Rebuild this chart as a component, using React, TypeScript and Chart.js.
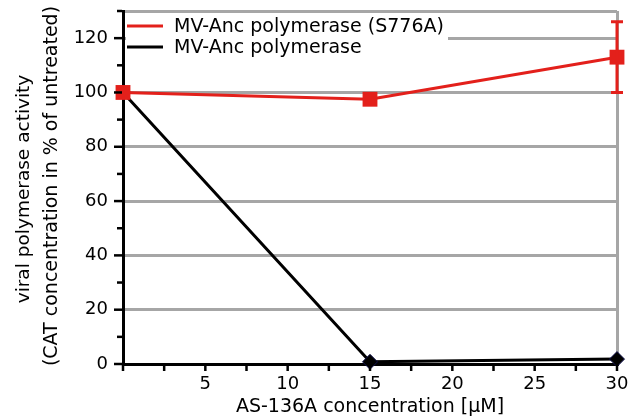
import React, { useEffect, useRef } from 'react';
import { Chart, registerables } from 'chart.js';

Chart.register(...registerables);

// ---- data ----
const concentrations = [0, 15, 30];
const mutantActivity = [100, 97.5, 113];
const mutantErrLow: (number | null)[] = [null, null, 100];
const mutantErrHigh: (number | null)[] = [null, null, 126];
const wildtypeActivity = [100, 0.8, 1.8];
const seriesLabels = ['MV-Anc polymerase (S776A)', 'MV-Anc polymerase'];
const xTitle = 'AS-136A concentration [µM]';
const yTitleLines = ['viral polymerase activity', '(CAT concentration in % of untreated)'];
const xTickValues = [0, 2.5, 5, 7.5, 10, 12.5, 15, 17.5, 20, 22.5, 25, 27.5, 30];
const xLabeled = [5, 10, 15, 20, 25, 30];
const yTickValues = [0, 10, 20, 30, 40, 50, 60, 70, 80, 90, 100, 110, 120, 130];
const yLabeled = [0, 20, 40, 60, 80, 100, 120];

const RED = '#e3201b';
const GRAY = '#a6a6a6';
const FONT = 'DejaVu Sans';

const decorPlugin = {
  id: 'decor',
  afterDatasetsDraw(chart: any) {
    const ctx = chart.ctx;
    const xs = chart.scales.x;
    const ys = chart.scales.y;
    // error bars
    ctx.save();
    ctx.strokeStyle = RED;
    ctx.lineWidth = 3;
    concentrations.forEach((c, i) => {
      const lo = mutantErrLow[i];
      const hi = mutantErrHigh[i];
      if (lo == null || hi == null) return;
      const px = xs.getPixelForValue(c);
      const pLo = ys.getPixelForValue(lo);
      const pHi = ys.getPixelForValue(hi);
      ctx.beginPath();
      ctx.moveTo(px, pLo);
      ctx.lineTo(px, pHi);
      ctx.moveTo(px - 6, pLo);
      ctx.lineTo(px + 6, pLo);
      ctx.moveTo(px - 6, pHi);
      ctx.lineTo(px + 6, pHi);
      ctx.stroke();
    });
    ctx.restore();
  },
  afterDraw(chart: any) {
    const ctx = chart.ctx;
    const xs = chart.scales.x;
    const ys = chart.scales.y;
    const area = chart.chartArea;
    ctx.save();
    // tick marks
    ctx.strokeStyle = '#000';
    ctx.lineWidth = 2.5;
    yTickValues.forEach((v) => {
      const py = ys.getPixelForValue(v);
      const len = v % 20 === 0 ? 8 : 5;
      ctx.beginPath();
      ctx.moveTo(area.left - 1, py);
      ctx.lineTo(area.left - 1 - len, py);
      ctx.stroke();
    });
    xTickValues.forEach((v) => {
      const px = xs.getPixelForValue(v);
      ctx.beginPath();
      ctx.moveTo(px, area.bottom + 1);
      ctx.lineTo(px, area.bottom + 7);
      ctx.stroke();
    });
    // legend
    ctx.fillStyle = '#fff';
    ctx.fillRect(area.left + 3, 15, 322, 44);
    ctx.font = `19px "${FONT}"`;
    ctx.textBaseline = 'middle';
    ctx.textAlign = 'left';
    const legendRows = [
      { color: RED, y: 26 },
      { color: '#000', y: 47 },
    ];
    legendRows.forEach((r, i) => {
      ctx.strokeStyle = r.color;
      ctx.lineWidth = 3;
      ctx.beginPath();
      ctx.moveTo(area.left + 4, r.y);
      ctx.lineTo(area.left + 40, r.y);
      ctx.stroke();
      ctx.fillStyle = '#000';
      ctx.fillText(seriesLabels[i], area.left + 51, r.y + 1);
    });
    // axis titles
    ctx.fillStyle = '#000';
    ctx.textAlign = 'center';
    ctx.textBaseline = 'middle';
    ctx.font = `19px "${FONT}"`;
    ctx.fillText(xTitle, (area.left + area.right) / 2, 407);
    ctx.font = `18.5px "${FONT}"`;
    ctx.save();
    ctx.translate(24, 189);
    ctx.rotate(-Math.PI / 2);
    ctx.fillText(yTitleLines[0], 0, 0);
    ctx.restore();
    ctx.font = `19px "${FONT}"`;
    ctx.save();
    ctx.translate(52, 186);
    ctx.rotate(-Math.PI / 2);
    ctx.fillText(yTitleLines[1], 0, 0);
    ctx.restore();
    ctx.restore();
  },
};

export default function App() {
  const ref = useRef<HTMLCanvasElement | null>(null);
  useEffect(() => {
    if (!ref.current) return;
    const chart = new Chart(ref.current, {
      type: 'line',
      data: {
        datasets: [
          {
            label: seriesLabels[0],
            data: concentrations.map((x, i) => ({ x, y: mutantActivity[i] })),
            borderColor: RED,
            backgroundColor: RED,
            borderWidth: 3,
            pointStyle: 'rect',
            pointRadius: 10.5,
            pointBorderWidth: 0,
            pointBackgroundColor: RED,
            tension: 0,
            clip: false,
          } as any,
          {
            label: seriesLabels[1],
            data: concentrations.map((x, i) => ({ x, y: wildtypeActivity[i] })),
            borderColor: '#000',
            backgroundColor: '#000',
            borderWidth: 3,
            pointStyle: 'rectRot',
            pointRadius: 7.5,
            pointBorderWidth: 1,
            pointBorderColor: '#10104a',
            pointBackgroundColor: '#000',
            tension: 0,
            clip: false,
          } as any,
        ],
      },
      options: {
        responsive: false,
        animation: false,
        layout: { padding: { top: 11, right: 25, left: 0, bottom: 0 } },
        plugins: { legend: { display: false }, tooltip: { enabled: false } },
        scales: {
          x: {
            type: 'linear',
            min: 0,
            max: 30,
            afterBuildTicks: (s: any) => {
              s.ticks = xTickValues.map((v) => ({ value: v }));
            },
            afterFit: (s: any) => {
              s.height = 53;
              s.paddingLeft = 0;
              s.paddingRight = 0;
            },
            grid: {
              drawOnChartArea: true,
              drawTicks: false,
              lineWidth: 3,
              color: (c: any) => (c.tick && c.tick.value === 30 ? GRAY : 'rgba(0,0,0,0)'),
            },
            border: { color: '#000', width: 3 },
            ticks: {
              autoSkip: false,
              maxRotation: 0,
              padding: 10,
              color: '#000',
              font: { family: FONT, size: 18 },
              callback: (v: any) => (xLabeled.includes(Number(v)) ? String(v) : ''),
            },
          },
          y: {
            type: 'linear',
            min: 0,
            max: 130,
            afterBuildTicks: (s: any) => {
              s.ticks = yTickValues.map((v) => ({ value: v }));
            },
            afterFit: (s: any) => {
              s.width = 123;
              s.paddingTop = 0;
              s.paddingBottom = 0;
            },
            grid: {
              drawTicks: false,
              lineWidth: 3,
              color: (c: any) =>
                c.tick && (c.tick.value % 20 === 0 || c.tick.value === 130) ? GRAY : 'rgba(0,0,0,0)',
            },
            border: { color: '#000', width: 3 },
            ticks: {
              autoSkip: false,
              padding: 15,
              color: '#000',
              font: { family: FONT, size: 18 },
              callback: (v: any) => (yLabeled.includes(Number(v)) ? String(v) : ''),
            },
          },
        },
      },
      plugins: [decorPlugin],
    });
    return () => chart.destroy();
  }, []);
  return (
    <canvas
      ref={ref}
      width={642}
      height={417}
      style={{ position: 'absolute', left: 0, top: 0, width: 642, height: 417, background: '#fff' }}
    />
  );
}
